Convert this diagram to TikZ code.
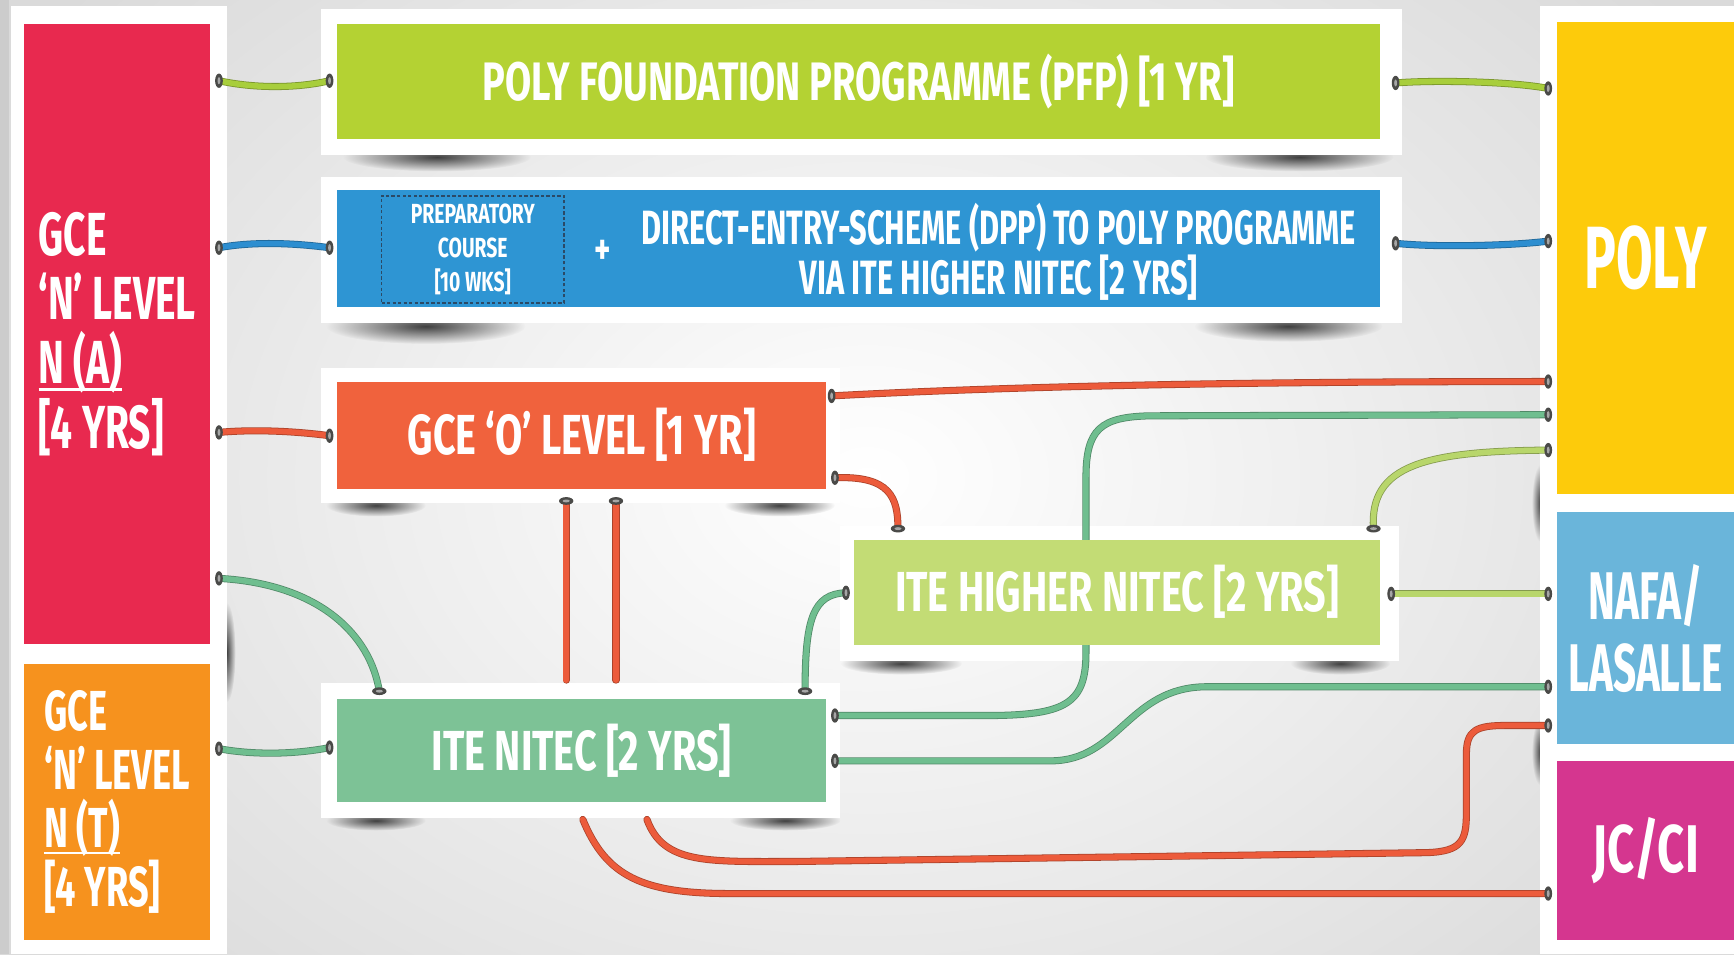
\documentclass[tikz,border=0pt]{standalone}
\usepackage{fontspec}
\newfontfamily\cf[FakeStretch=0.7]{Fira Sans}
\newfontfamily\cfm[FakeStretch=0.64]{Fira Sans}
\newfontfamily\cfn[FakeStretch=0.6]{Fira Sans}
\usetikzlibrary{fadings,calc}
\definecolor{cRed}{HTML}{E8294F}
\definecolor{cOrange}{HTML}{F6921E}
\definecolor{cPfp}{HTML}{B4D233}
\definecolor{cBlue}{HTML}{2E95D3}
\definecolor{cGceo}{HTML}{F0623D}
\definecolor{cHn}{HTML}{C3DC75}
\definecolor{cItn}{HTML}{7DC296}
\definecolor{cPoly}{HTML}{FDCB0B}
\definecolor{cNafa}{HTML}{6AB5DA}
\definecolor{cJc}{HTML}{D5368F}
\definecolor{wRed}{HTML}{EC5B3B}
\definecolor{wGreen}{HTML}{6FBE8F}
\definecolor{wLime}{HTML}{A8CE3C}
\definecolor{wLight}{HTML}{B8D66B}
\definecolor{wBlue}{HTML}{2D8ED0}
\definecolor{pinc}{HTML}{4A4A48}
\definecolor{bgc}{HTML}{DADADA}
\definecolor{dashc}{HTML}{2B4A66}
\newsavebox\ulbox
\newcommand\myul[1]{\leavevmode\sbox\ulbox{#1}\rlap{\rule[-0.12em]{\wd\ulbox}{0.05em}}\usebox\ulbox}
\tikzfading[name=softblob, inner color=transparent!0, outer color=transparent!100]
\begin{document}
\begin{tikzpicture}[x=1pt,y=-1pt,
  box/.style={fill=#1, inner sep=0pt, outer sep=0pt, text=white, anchor=north west, align=center},
  card/.style={fill=white},
  shadowblob/.style={fill=black!75, path fading=softblob},
  wire/.style={draw=#1, line width=5pt, line cap=round, preaction={draw=#1!72!black, line width=6.4pt, line cap=round}},
  pinv/.style={fill=pinc},
  lbl/.style={font=\cf\bfseries\fontsize{51}{53}\selectfont}
]
\useasboundingbox (0,0) rectangle (1568,863);
% background
\fill[bgc] (0,0) rectangle (1568,863);
\shade[inner color=white, outer color=bgc] (-150,-250) rectangle (1718,1113);
\fill[black!20] (0,0) rectangle (8,863);
% shadows
\fill[shadowblob] (395,142) ellipse (85 and 13);
\fill[shadowblob] (1175,142) ellipse (85 and 13);
\fill[shadowblob] (385,295) ellipse (90 and 16);
\fill[shadowblob] (1165,295) ellipse (85 and 14);
\fill[shadowblob] (340,457) ellipse (45 and 10);
\fill[shadowblob] (705,457) ellipse (50 and 10);
\fill[shadowblob] (815,600) ellipse (55 and 10);
\fill[shadowblob] (1212,600) ellipse (45 and 10);
\fill[shadowblob] (340,742) ellipse (45 and 9);
\fill[shadowblob] (710,742) ellipse (50 and 9);
\fill[shadowblob] (205,590) ellipse (8 and 45);
\fill[shadowblob] (1393,455) ellipse (8 and 35);
\fill[shadowblob] (1393,680) ellipse (8 and 30);
% white cards
\fill[card] (10,5) rectangle (205,863);
\fill[card] (290,8) rectangle (1268,140);
\fill[card] (290,160) rectangle (1268,292);
\fill[card] (290,333) rectangle (760,455);
\fill[card] (760,476) rectangle (1265,598);
\fill[card] (290,618) rectangle (760,740);
\fill[card] (1393,5) rectangle (1568,863);
% pin coordinates
\coordinate (a1) at (198,73);  \coordinate (b1) at (298,73);
\coordinate (a2) at (198,224); \coordinate (b2) at (298,224);
\coordinate (a3) at (198,391); \coordinate (b3) at (298,394);
\coordinate (a4) at (198,523); \coordinate (b4) at (343,625);
\coordinate (a5) at (198,677); \coordinate (b5) at (298,676);
\coordinate (a6) at (1262,75); \coordinate (b6) at (1400,80);
\coordinate (a7) at (1262,220); \coordinate (b7) at (1400,218);
\coordinate (a8) at (752,358); \coordinate (b8) at (1400,345);
\coordinate (a9) at (755,432); \coordinate (b9) at (812,478);
\coordinate (a10) at (512,453); \coordinate (b10) at (512,615);
\coordinate (a11) at (557,453); \coordinate (b11) at (557,615);
\coordinate (a12) at (728,625); \coordinate (b12) at (765,536);
\coordinate (a13) at (755,647); \coordinate (b13) at (1400,375);
\coordinate (a14) at (1242,478); \coordinate (b14) at (1400,407);
\coordinate (a15) at (1258,537); \coordinate (b15) at (1400,537);
\coordinate (a16) at (755,688); \coordinate (b16) at (1400,621);
\coordinate (a17) at (585,741); \coordinate (b17) at (1400,656);
\coordinate (a18) at (527,741); \coordinate (b18) at (1400,808);
% wires
\draw[wire=wLime] (a1) .. controls (230,80) and (268,80) .. (b1);
\draw[wire=wBlue] (a2) .. controls (230,218) and (268,220) .. (b2);
\draw[wire=wRed] (a3) .. controls (230,388) and (268,390) .. (b3);
\draw[wire=wGreen] (a4) .. controls (290,528) and (335,575) .. (b4);
\draw[wire=wGreen] (a5) .. controls (230,683) and (268,682) .. (b5);
\draw[wire=wLime] (a6) .. controls (1300,72) and (1370,74) .. (b6);
\draw[wire=wBlue] (a7) .. controls (1300,224) and (1370,222) .. (b7);
\draw[wire=wRed] (a8) .. controls (900,350) and (1100,345) .. (b8);
\draw[wire=wRed] (a9) .. controls (805,430) and (812,450) .. (b9);
\draw[wire=wRed] (a10) -- (b10);
\draw[wire=wRed] (a11) -- (b11);
\draw[wire=wGreen] (a12) .. controls (728,560) and (735,537) .. (b12);
\draw[wire=wGreen] (a13) -- (900,647) .. controls (965,646) and (982,635) .. (982,590) -- (982,432) .. controls (982,388) and (995,377) .. (1040,376) -- (b13);
\draw[wire=wLight] (a14) .. controls (1238,420) and (1290,408) .. (b14);
\draw[wire=wLight] (a15) -- (b15);
\draw[wire=wGreen] (a16) -- (950,688) .. controls (1012,688) and (1020,622) .. (1090,621) -- (b16);
\draw[wire=wRed] (a17) .. controls (600,782) and (640,779) .. (720,779) -- (1290,771) .. controls (1322,770) and (1326,760) .. (1326,735) -- (1326,682) .. controls (1326,660) and (1335,656) .. (1362,656) -- (b17);
\draw[wire=wRed] (a18) .. controls (548,792) and (580,808) .. (660,808) -- (b18);
% boxes
\node[box=cRed, minimum width=168pt, minimum height=560pt, align=left,
      font=\cfm\bfseries\fontsize{55}{58}\selectfont] (na) at (22,22)
      {GCE\\‘N’ LEVEL\\\myul{N (A)}\\{}[4 YRS]};
\node[box=cOrange, minimum width=168pt, minimum height=250pt, align=left,
      font=\cfm\bfseries\fontsize{51}{53}\selectfont] (nt) at (22,600)
      {GCE\\‘N’ LEVEL\\\myul{N (T)}\\{}[4 YRS]};
\node[box=cPfp, minimum width=943pt, minimum height=104pt, font=\cf\bfseries\fontsize{49}{50}\selectfont] (pfp) at (305,22)
      {POLY FOUNDATION PROGRAMME (PFP) [1 YR]};
\node[box=cBlue, minimum width=943pt, minimum height=106pt] (dpp) at (305,172) {};
\node[draw=dashc, dash pattern=on 3pt off 2pt, line width=1.6pt, minimum width=165pt, minimum height=97pt, inner sep=0pt,
      text=white, align=center, font=\cf\bfseries\fontsize{25}{31}\selectfont] (prep) at (427.5,225.5)
      {PREPARATORY\\COURSE\\{}[10 WKS]};
\node[text=white, font=\cf\bfseries\fontsize{40}{40}\selectfont] (plus) at (545,228) {+};
\node[text=white, align=center, font=\cfm\bfseries\fontsize{43.5}{45}\selectfont] (dpptxt) at (903,228)
      {DIRECT-ENTRY-SCHEME (DPP) TO POLY PROGRAMME\\VIA ITE HIGHER NITEC [2 YRS]};
\node[box=cGceo, minimum width=442pt, minimum height=97pt, lbl] (gceo) at (305,345) {GCE ‘O’ LEVEL [1 YR]};
\node[box=cHn, minimum width=476pt, minimum height=95pt, lbl] (hn) at (772,488) {ITE HIGHER NITEC [2 YRS]};
\node[box=cItn, minimum width=442pt, minimum height=93pt, lbl] (itn) at (305,632) {ITE NITEC [2 YRS]};
\node[box=cPoly, minimum width=160pt, minimum height=427pt, font=\cfn\bfseries\fontsize{80}{80}\selectfont] (poly) at (1408,20) {POLY};
\node[box=cNafa, minimum width=160pt, minimum height=210pt, font=\cfn\bfseries\fontsize{61}{65}\selectfont] (nafa) at (1408,463) {NAFA/\\LASALLE};
\node[box=cJc, minimum width=160pt, minimum height=162pt, font=\cf\bfseries\fontsize{61}{65}\selectfont] (jc) at (1408,688) {JC/CI};
% pins
\foreach \p in {a1,b1,a2,b2,a3,b3,a4,a5,b5,a6,b6,a7,b7,a8,b8,a9,b12,a13,b13,b14,a15,b15,a16,b16,b17,b18}{
  \fill[pinv] (\p) ellipse (3.5 and 6.5);
  \fill[black!35] (\p) ellipse (1.3 and 3.2);
}
\foreach \p in {b4,b9,a10,a11,a12,a14}{
  \fill[pinv] (\p) ellipse (6.5 and 3.5);
  \fill[black!35] (\p) ellipse (3.2 and 1.3);
}
\end{tikzpicture}
\end{document}
